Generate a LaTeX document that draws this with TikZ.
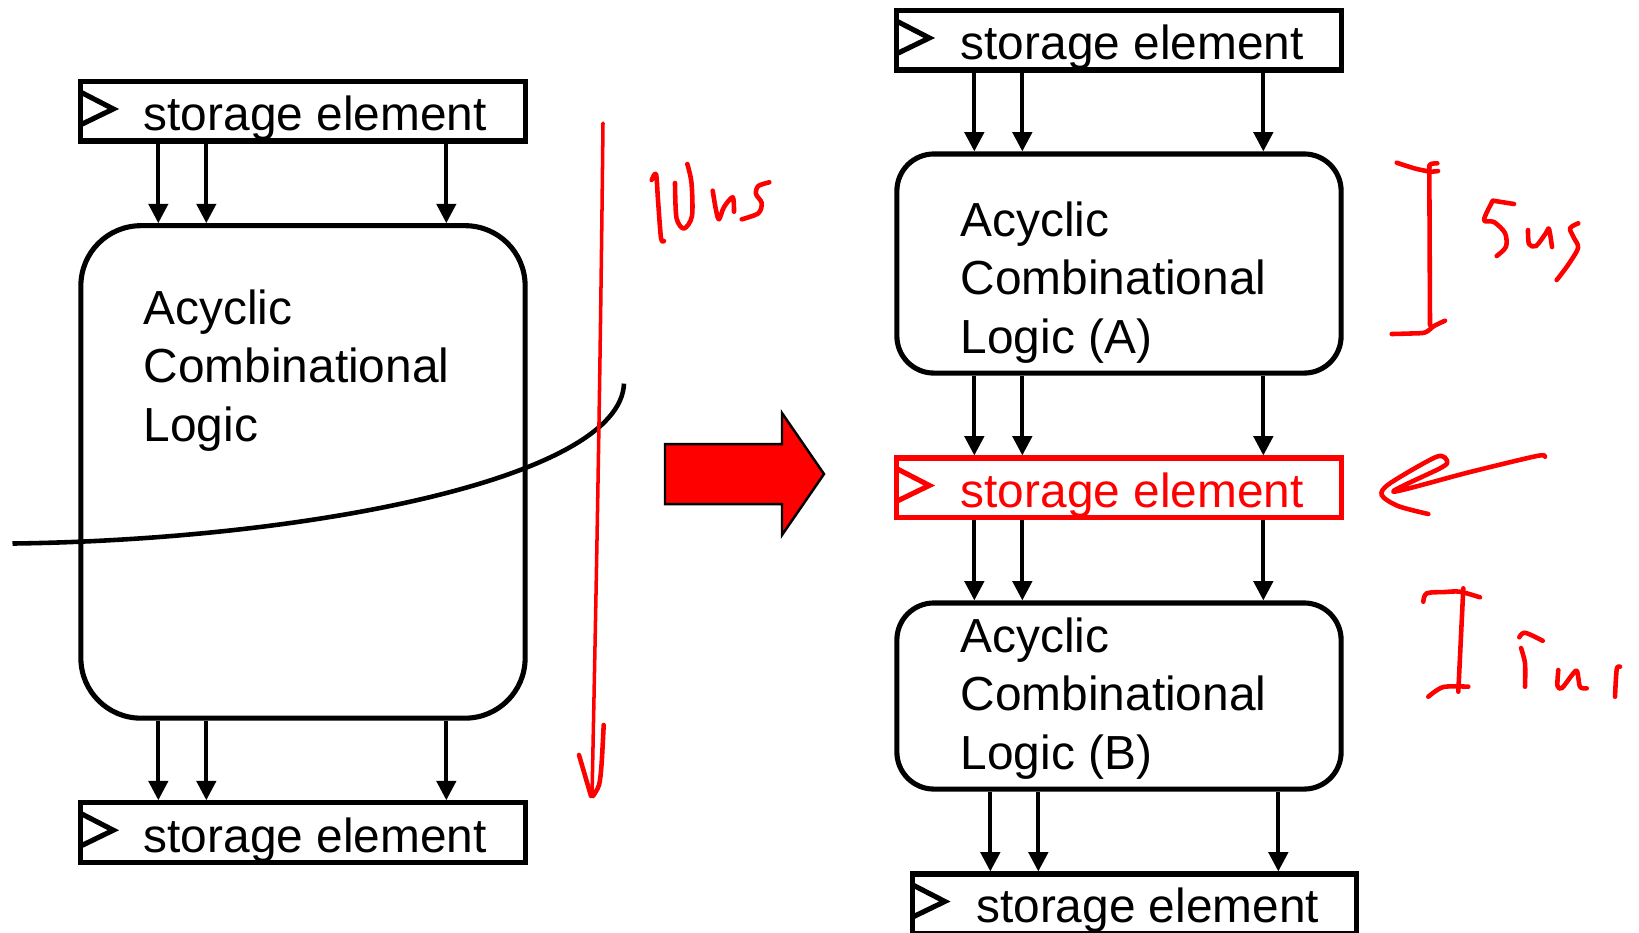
\documentclass[tikz,border=0pt]{standalone}
\usepackage{fontspec}
\setmainfont{Liberation Sans}
\usetikzlibrary{arrows.meta,calc}
\begin{document}
\begin{tikzpicture}[x=0.01cm,y=-0.01cm,
  box/.style={draw, line width=1.45pt, rectangle, inner sep=0pt},
  store/.style={box, minimum width=4.44cm, minimum height=0.595cm},
  lbl/.style={anchor=base west, inner sep=0pt, font=\fontsize{13.6pt}{16pt}\selectfont},
  wire/.style={line width=1.05pt, -{Triangle[length=5.5pt,width=5.5pt]}},
  clk/.style={line width=1.45pt},
  ink/.style={red, line width=1.3pt, line cap=round, line join=round},
]
\useasboundingbox (0,0) rectangle (1639,932);
\clip (0,0) rectangle (1639,932);
\fill[white] (0,0) rectangle (1639,932);

% ---------- left column ----------
\node[store] (s1) at (303,111.25) {};
\node[lbl] (t1) at (143,130.5) {storage element};
\draw[clk] ($(s1.north west)+(2,13)$) -- ($(s1.north west)+(35,30)$) -- ($(s1.north west)+(2,46)$);

\node[box, rounded corners=0.6cm, minimum width=4.44cm, minimum height=4.922cm] (c1) at (303,471.9) {};
\node[lbl] (t2) at (143,324) {Acyclic};
\node[lbl] (t3) at (143,382.5) {Combinational};
\node[lbl] (t4) at (143,441) {Logic};

\node[store] (s2) at (303,832.5) {};
\node[lbl] (t5) at (143,852) {storage element};
\draw[clk] ($(s2.north west)+(2,13)$) -- ($(s2.north west)+(35,30)$) -- ($(s2.north west)+(2,46)$);

\foreach \dx in {80,128,368} {
  \draw[wire] ($(s1.south west)+(\dx,0)$) -- ($(c1.north west)+(\dx,0)$);
  \draw[wire] ($(c1.south west)+(\dx,0)$) -- ($(s2.north west)+(\dx,0)$);
}

% black cut curve
\draw[line width=1.3pt] (12.5,543.5) .. controls (300,540) and (620,480) .. (624,383.6);

% big red block arrow
\draw[fill=red, line width=0.7pt] (665,444) -- (782,444) -- (782,413) -- (824,474) -- (782,535) -- (782,504) -- (665,504) -- cycle;

% ---------- right column ----------
\node[store] (s3) at (1119,40.25) {};
\node[lbl] (t6) at (960,59.5) {storage element};
\draw[clk] ($(s3.north west)+(2,13)$) -- ($(s3.north west)+(35,30)$) -- ($(s3.north west)+(2,46)$);

\node[box, rounded corners=0.37cm, minimum width=4.44cm, minimum height=2.19cm] (cA) at (1119,263.5) {};
\node[lbl] (t7) at (960,236) {Acyclic};
\node[lbl] (t8) at (960,294.5) {Combinational};
\node[lbl] (t9) at (960,353) {Logic (A)};

\node[store, draw=red] (s4) at (1119,487.75) {};
\node[lbl, text=red] (t10) at (960,507) {storage element};
\draw[clk, red] ($(s4.north west)+(2,13)$) -- ($(s4.north west)+(35,30)$) -- ($(s4.north west)+(2,46)$);

\node[box, rounded corners=0.37cm, minimum width=4.44cm, minimum height=1.86cm] (cB) at (1119,696) {};
\node[lbl] (t11) at (960,652) {Acyclic};
\node[lbl] (t12) at (960,710.5) {Combinational};
\node[lbl] (t13) at (960,769) {Logic (B)};

\node[store] (s5) at (1134.5,903.75) {};
\node[lbl] (t14) at (975.5,922) {storage element};
\draw[clk] ($(s5.north west)+(2,13)$) -- ($(s5.north west)+(35,30)$) -- ($(s5.north west)+(2,46)$);

\foreach \dx in {80,128,369} {
  \draw[wire] ($(s3.south west)+(\dx,0)$) -- ($(cA.north west)+(\dx,0)$);
  \draw[wire] ($(cA.south west)+(\dx,0)$) -- ($(s4.north west)+(\dx,0)$);
  \draw[wire] ($(s4.south west)+(\dx,0)$) -- ($(cB.north west)+(\dx,0)$);
}
\foreach \dx in {96,144,384} {
  \draw[wire] ($(cB.south west)+(\dx,0)$) -- ($(s5.north west)+(\dx-15.5,0)$);
}

% ---------- red handwriting ----------
% long arrow with 10us
\draw[ink, line width=1pt] (603,123) .. controls (600,400) and (596,600) .. (592,796);
\draw[ink] (579,755) -- (591,796);
\draw[ink] plot[smooth] coordinates {(603.7,725) (601.5,765) (599,785) (593,796)};
\draw[ink] plot[smooth] coordinates {(651.7,180) (656,174) (658,200) (661,238) (664,241)};
\draw[ink] plot[smooth] coordinates {(675,183) (676.5,218) (684,228.5) (692,216) (691.5,183) (687.3,164)};
\draw[ink] plot[smooth] coordinates {(712.7,190.7) (716,210) (719,219.3) (724,207) (732.7,197.3) (734,211.7)};
\draw[ink] plot[smooth] coordinates {(769.3,182.3) (758.3,186) (756,194) (761.7,203) (758.3,213.3) (741.7,219.3)};

% bracket 5us (A)
\draw[ink] plot[smooth] coordinates {(1396.7,162.7) (1415,168.5) (1430,171.5) (1438,171)};
\draw[ink] plot[smooth] coordinates {(1429,172) (1430,164.5) (1437.3,163.3)};
\draw[ink] (1429.3,166) -- (1430,325);
\draw[ink] plot[smooth] coordinates {(1391.7,334) (1410,333.5) (1425,332.5) (1434,326) (1445,320.7)};
\draw[ink] (1514,204) -- (1493.3,200.7);
\draw[ink] plot[smooth] coordinates {(1492.7,200.7) (1484,220) (1494,222) (1505,233) (1506,246.7) (1496.7,256)};
\draw[ink] plot[smooth] coordinates {(1528,230) (1529,244) (1536,246) (1546,233) (1549,229) (1552,247)};
\draw[ink] plot[smooth] coordinates {(1578.3,223.3) (1570,228.3) (1574,238) (1578,248) (1568,265) (1556.7,280)};

% hand-drawn arrow to red storage element
\draw[ink] plot[smooth, tension=0.5] coordinates {(1545,456.7) (1536.7,456) (1470,472) (1393.3,491.7) (1440,468.3) (1447.3,461.7) (1436.7,456.7) (1390,483.3) (1381.7,495) (1398,506) (1428.3,514)};

% bracket 5us (B)
\draw[ink] plot[smooth] coordinates {(1423.3,601.7) (1426.7,593.3) (1445,592) (1460,591.7) (1480,597.3)};
\draw[ink] (1463.3,588.3) -- (1458.3,691.7);
\draw[ink] plot[smooth] coordinates {(1428.3,696.7) (1443.3,687) (1468.3,686.7)};
\draw[ink] plot[smooth] coordinates {(1542.7,640.7) (1525,632.7) (1519.3,637.3)};
\draw[ink] plot[smooth] coordinates {(1521,648) (1525,663.3) (1525,686.7)};
\draw[ink] plot[smooth] coordinates {(1558.3,670) (1557.5,686) (1562,688) (1572,675) (1577,671) (1580,686.7) (1586.7,688.3)};
\draw[ink] plot[smooth] coordinates {(1620,666.7) (1616.7,669.3) (1615,696.7)};
\end{tikzpicture}
\end{document}
